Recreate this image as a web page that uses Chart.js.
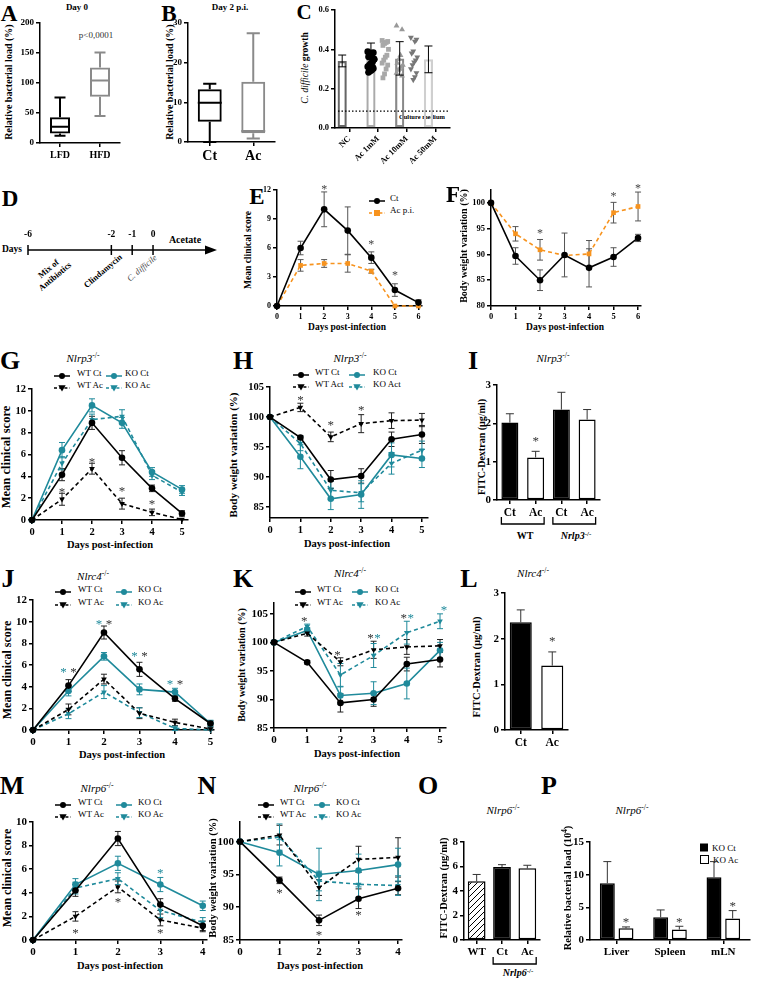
<!DOCTYPE html>
<html>
<head>
<meta charset="utf-8">
<title>Acetate and C. difficile</title>
<script src="https://cdn.jsdelivr.net/npm/chart.js@4.4.1/dist/chart.umd.min.js"></script>
<style>
  html, body { margin: 0; padding: 0; background: #fff; }
  #page { position: relative; width: 767px; height: 981px; overflow: hidden;
          font-family: 'Liberation Serif', 'Times New Roman', serif; color: #000; }
  #page canvas { position: absolute; }
  #page div { position: absolute; white-space: nowrap; line-height: 1; }
  sup { font-size: 70%; vertical-align: 0; position: relative; top: -0.5em; }
</style>
</head>
<body>
<div id="page"></div>
<script>
// ---------- data ----------
// A: day 0 box plot
const aLabels = ['LFD', 'HFD'];
const aMin = [12, 45], aQ1 = [16, 77], aMed = [27, 104], aQ3 = [43, 126], aMax = [76, 151];
// B: day 2 p.i. box plot
const bLabels = ['Ct', 'Ac'];
const bMin = [0, 0.9], bQ1 = [5.1, 2.2], bMed = [9.9, 2.8], bQ3 = [13.3, 15.2], bMax = [14.7, 27.4];
// C: C. difficile growth
const cLabels = ['NC', 'Ac 1mM', 'Ac 10mM', 'Ac 50mM'];
const cMean = [0.341, 0.366, 0.354, 0.349];
const cSD = [0.03, 0.066, 0.085, 0.068];
const cNC = [0.388, 0.383, 0.38, 0.371, 0.362, 0.349, 0.337, 0.329, 0.32, 0.312, 0.303, 0.295, 0.29, 0.283, 0.35, 0.31];
const cAc1 = [0.445, 0.44, 0.435, 0.43, 0.42, 0.40, 0.37, 0.36, 0.345, 0.33, 0.32, 0.30, 0.275, 0.255];
const cAc10 = [0.52, 0.50, 0.37, 0.35, 0.33, 0.32, 0.31, 0.30, 0.295, 0.28, 0.265];
const cAc50 = [0.46, 0.45, 0.44, 0.39, 0.38, 0.36, 0.345, 0.335, 0.32, 0.30, 0.28, 0.26, 0.245];
const cMedium = 0.086;
// D: protocol timeline
const dTicks = [-6, -2, -1, 0];
// E, F: days 0-6
const days6 = [0, 1, 2, 3, 4, 5, 6];
const eCt = [0, 6.0, 10.0, 7.8, 5.0, 1.65, 0.35];
const eCtErr = [0, 0.7, 1.8, 2.45, 0.6, 0.65, 0.3];
const eAc = [0, 4.2, 4.4, 4.4, 3.6, 0, 0];
const eAcErr = [0, 0.6, 0.4, 0.9, 0.2, 0, 0];
const eStars = [[2, 12.3], [4, 6.6], [5, 3.4]];
const fCt = [100, 89.7, 85.0, 89.9, 87.4, 89.5, 93.2];
const fCtErr = [0, 1.6, 2.0, 4.25, 3.7, 1.8, 0.7];
const fAc = [100, 94.0, 90.9, 89.8, 90.1, 98.1, 99.3];
const fAcErr = [0, 1.4, 2.0, 0, 2.6, 2.0, 2.8];
const fStars = [[2, 94.6], [5, 101.8], [6, 103.4]];
// G, H, I: Nlrp3-/-
const days5 = [0, 1, 2, 3, 4, 5];
const gWTCt = [0, 4.15, 8.9, 5.7, 2.9, 0.6],  gWTCtErr = [0, 0.55, 0.6, 0.65, 0.3, 0.25];
const gWTAc = [0, 1.9, 4.7, 1.5, 0.7, 0.05],  gWTAcErr = [0, 0.55, 0.5, 0.5, 0.3, 0];
const gKOCt = [0, 6.4, 10.5, 8.9, 4.4, 2.8],  gKOCtErr = [0, 0.7, 0.6, 0.5, 0.4, 0.35];
const gKOAc = [0, 5.2, 9.2, 9.5, 4.1, 2.55],  gKOAcErr = [0, 0.6, 0.5, 0.6, 0.4, 0.3];
const gStars = [[1, 2.8], [2, 5.5], [3, 2.9], [4, 1.7]];
const hWTCt = [100, 96.6, 89.6, 90.2, 96.3, 97.1],   hWTCtErr = [0, 0.3, 1.5, 1.2, 1.2, 1.5];
const hWTAc = [100, 101.6, 96.7, 98.9, 99.4, 99.5],  hWTAcErr = [0, 0.7, 0.8, 1.5, 1.3, 1.1];
const hKOCt = [100, 93.4, 86.4, 87.1, 93.7, 93.1],   hKOCtErr = [0, 2.0, 1.8, 2.3, 2.0, 1.5];
const hKOAc = [100, 95.6, 87.8, 87.4, 92.3, 94.5],   hKOAcErr = [0, 1.2, 1.5, 1.5, 1.8, 1.5];
const hStars = [[1, 103.3], [2, 99.0], [3, 101.5]];
const iLabels = ['Ct', 'Ac', 'Ct', 'Ac'];
const iVals = [2.02, 1.11, 2.36, 2.10];
const iErr = [0.23, 0.16, 0.45, 0.26];
const iStars = [[1, 1.6]];
// J, K, L: Nlrc4-/-
const jWTCt = [0, 4.1, 9.0, 5.6, 2.9, 0.6],   jWTCtErr = [0, 0.55, 0.6, 0.65, 0.25, 0.25];
const jWTAc = [0, 1.9, 4.7, 1.55, 0.7, 0.1],  jWTAcErr = [0, 0.5, 0.45, 0.5, 0.3, 0.1];
const jKOCt = [0, 3.6, 6.8, 3.75, 3.5, 0.6],  jKOCtErr = [0, 0.45, 0.35, 0.5, 0.35, 0.3];
const jKOAc = [0, 1.5, 3.5, 1.6, 0.15, 0],    jKOAcErr = [0, 0.45, 0.6, 0.45, 0.2, 0];
const jStarsKO = [[1, 5.6], [2, 10.0], [3, 7.1], [4, 4.5]];
const jStarsWT = [[1, 5.6], [2, 10.0], [3, 7.1], [4, 4.5]];
const kWTCt = [100, 96.5, 89.4, 90.0, 96.2, 97.0],   kWTCtErr = [0, 0.3, 1.6, 1.2, 1.2, 1.3];
const kWTAc = [100, 101.6, 96.6, 98.7, 99.2, 99.4],  kWTAcErr = [0, 0.5, 0.7, 1.5, 1.3, 1.1];
const kKOCt = [100, 102.1, 90.7, 91.1, 92.8, 98.6],  kKOCtErr = [0, 0.5, 1.5, 2.0, 2.7, 1.4];
const kKOAc = [100, 102.8, 94.3, 97.7, 101.7, 103.7], kKOAcErr = [0, 0.4, 2.0, 2.1, 2.0, 1.3];
const kStarsWT = [[1, 104.1], [2, 98.3], [3, 101.2], [4, 104.7]];
const kStarsKO = [[3, 101.2], [4, 104.7], [5, 106.1]];
const lLabels = ['Ct', 'Ac'];
const lVals = [2.36, 1.41];
const lErr = [0.27, 0.30];
const lStars = [[1, 2.0]];
// M, N, O, P: Nlrp6-/-
const days4 = [0, 1, 2, 3, 4];
const mWTCt = [0, 4.2, 8.6, 3.0, 1.2],  mWTCtErr = [0, 0.5, 0.6, 0.5, 0.4];
const mWTAc = [0, 2.0, 4.5, 1.7, 1.0],  mWTAcErr = [0, 0.4, 0.5, 0.5, 0.3];
const mKOCt = [0, 4.7, 6.5, 4.7, 2.9],  mKOCtErr = [0, 0.5, 0.6, 0.6, 0.4];
const mKOAc = [0, 4.4, 5.2, 2.5, 1.5],  mKOAcErr = [0, 0.5, 0.5, 0.6, 0.4];
const mStarsWT = [[1, 0.8], [2, 3.4], [3, 0.8]];
const mStarsKO = [[3, 5.9]];
const nWTCt = [100, 94.1, 88.0, 91.3, 92.9],   nWTCtErr = [0, 0.5, 0.8, 1.5, 1.0];
const nWTAc = [100, 101.0, 93.0, 97.3, 97.6],  nWTAcErr = [0, 1.5, 1.2, 2.0, 3.0];
const nKOCt = [100, 98.3, 95.0, 95.6, 96.5],   nKOCtErr = [0, 2.0, 4.0, 2.5, 2.5];
const nKOAc = [100, 100.7, 94.0, 93.5, 93.3],  nKOAcErr = [0, 2.0, 1.5, 2.0, 1.5];
const nStars = [[1, 92.5], [2, 86.2], [3, 89.2]];
const oLabels = ['WT', 'Ct', 'Ac'];
const oVals = [4.8, 5.95, 5.85];
const oErr = [0.55, 0.2, 0.25];
const pLabels = ['Liver', 'Spleen', 'mLN'];
const pKOCt = [8.7, 3.5, 9.6], pKOCtErr = [3.3, 1.1, 2.4];
const pKOAc = [1.8, 1.6, 3.3], pKOAcErr = [0.2, 0.5, 1.2];
const pStars = [[0, 3.2], [1, 3.2], [2, 5.6]];

// ---------- helpers ----------
const F = "'Liberation Serif', 'Times New Roman', serif";
const TEAL = '#1f8a9b';
const ORANGE = '#f7931e';
const page = document.getElementById('page');

function tx(html, x, y, css) {
  const d = document.createElement('div');
  d.innerHTML = html;
  d.style.cssText = 'left:' + x + 'px;top:' + y + 'px;transform:translate(-50%,-50%);' + (css || '');
  page.appendChild(d);
  return d;
}
function letter(ch, x, y, size) { tx(ch, x, y, 'font-weight:bold;font-size:' + size + 'px;'); }
function ytitle(html, x, y, size, css) {
  tx(html, x, y, 'font-weight:bold;font-size:' + size + 'px;transform:translate(-50%,-50%) rotate(-90deg);' + (css || ''));
}
function xtitle(html, x, y, size) { tx(html, x, y, 'font-weight:bold;font-size:' + size + 'px;'); }
function title(html, x, y) { tx(html, x, y, 'font-style:italic;font-size:11px;'); }
function gene(name) { return name + '<sup style="font-style:normal">-/-</sup>'; }

function sym(x, y, color, dashed, shape) {
  let mk;
  if (shape === 'circle') mk = '<circle cx="8" cy="5" r="3" fill="' + color + '"/>';
  else if (shape === 'rect') mk = '<rect x="5" y="2" width="6" height="6" fill="' + color + '"/>';
  else mk = '<polygon points="4.3,2.3 11.7,2.3 8,8.6" fill="' + color + '"/>';
  const d = document.createElement('div');
  d.style.cssText = 'left:' + x + 'px;top:' + (y - 5) + 'px;width:16px;height:10px;';
  d.innerHTML = '<svg width="16" height="10" viewBox="0 0 16 10"><line x1="0" y1="5" x2="16" y2="5" stroke="' + color +
    '" stroke-width="1.5"' + (dashed ? ' stroke-dasharray="3,2.2"' : '') + '/>' + mk + '</svg>';
  page.appendChild(d);
}
function legItem(x, y, textX, label, color, dashed, shape) {
  sym(x, y, color, dashed, shape);
  tx(label, textX, y, 'transform:translate(0,-50%);font-size:9px;');
}
function legend4(cols, rows, names) {
  legItem(cols[0], rows[0], cols[1], names[0], '#000', false, 'circle');
  legItem(cols[2], rows[0], cols[3], names[2], TEAL, false, 'circle');
  legItem(cols[0], rows[1], cols[1], names[1], '#000', true, 'triangle');
  legItem(cols[2], rows[1], cols[3], names[3], TEAL, true, 'triangle');
}

function drawErr(chart) {
  const ctx = chart.ctx;
  chart.data.datasets.forEach((ds, i) => {
    if (!ds.err) return;
    const meta = chart.getDatasetMeta(i);
    const ys = chart.scales[meta.yAxisID];
    ctx.save();
    ctx.strokeStyle = ds.errColor || '#000';
    ctx.lineWidth = ds.errWidth || 1;
    ctx.setLineDash([]);
    meta.data.forEach((el, j) => {
      const e = ds.err[j];
      if (!e) return;
      const raw = ds.data[j];
      const v = (raw !== null && typeof raw === 'object') ? raw.y : raw;
      const hi = ys.getPixelForValue(v + e);
      const lo = ys.getPixelForValue(ds.upOnly ? v : v - e);
      const cap = ds.cap || 3;
      ctx.beginPath();
      ctx.moveTo(el.x, lo); ctx.lineTo(el.x, hi);
      ctx.moveTo(el.x - cap, hi); ctx.lineTo(el.x + cap, hi);
      if (!ds.upOnly) { ctx.moveTo(el.x - cap, lo); ctx.lineTo(el.x + cap, lo); }
      ctx.stroke();
    });
    ctx.restore();
  });
}
const errBars = {
  id: 'errBars',
  beforeDatasetsDraw(chart, a, o) { if (!o.top) drawErr(chart); },
  afterDatasetsDraw(chart, a, o) { if (o.top) drawErr(chart); }
};
const stars = {
  id: 'stars',
  afterDatasetsDraw(chart, a, o) {
    if (!o.list) return;
    const ctx = chart.ctx, xs = chart.scales.x, ys = chart.scales.y;
    ctx.save();
    ctx.font = (o.size || 13) + 'px ' + F;
    ctx.textAlign = 'center';
    ctx.textBaseline = 'middle';
    ctx.fillStyle = o.color || '#333';
    o.list.forEach(s => {
      let x = xs.getPixelForValue(s[0]);
      if (o.ds !== undefined) x = chart.getDatasetMeta(o.ds).data[s[0]].x;
      ctx.fillText('*', x + (o.dx || 0), ys.getPixelForValue(s[1]) + 3);
    });
    ctx.restore();
  }
};
const stars2 = {
  id: 'stars2',
  afterDatasetsDraw(chart, a, o) { stars.afterDatasetsDraw(chart, a, o); }
};
const boxes = {
  id: 'boxes',
  afterDatasetsDraw(chart) {
    const ctx = chart.ctx, ys = chart.scales.y;
    chart.data.datasets.forEach((ds, i) => {
      if (!ds.box) return;
      const meta = chart.getDatasetMeta(i);
      meta.data.forEach((el, j) => {
        const half = el.width / 2, cap = half * 0.55;
        const y = v => ys.getPixelForValue(v);
        ctx.save();
        ctx.strokeStyle = ds.borderColor[j];
        ctx.lineWidth = 2;
        ctx.beginPath();
        ctx.moveTo(el.x - half, y(ds.box.med[j])); ctx.lineTo(el.x + half, y(ds.box.med[j]));
        ctx.moveTo(el.x, y(ds.data[j][1])); ctx.lineTo(el.x, y(ds.box.max[j]));
        ctx.moveTo(el.x - cap, y(ds.box.max[j])); ctx.lineTo(el.x + cap, y(ds.box.max[j]));
        ctx.moveTo(el.x, y(ds.data[j][0])); ctx.lineTo(el.x, y(ds.box.min[j]));
        ctx.moveTo(el.x - cap, y(ds.box.min[j])); ctx.lineTo(el.x + cap, y(ds.box.min[j]));
        ctx.stroke();
        ctx.restore();
      });
    });
  }
};

function tickFont(size) { return { family: F, weight: 'bold', size: size }; }
function linAxis(min, max, vals, size) {
  return {
    type: 'linear', min: min, max: max,
    afterBuildTicks: s => { s.ticks = vals.map(v => ({ value: v })); },
    border: { display: true, color: '#000', width: 1.5 },
    grid: { display: true, drawOnChartArea: false, drawTicks: true, tickLength: 4, tickWidth: 1.5, tickColor: '#000', lineWidth: 1.5 },
    ticks: { color: '#000', font: tickFont(size), padding: 2, autoSkip: false, maxRotation: 0 }
  };
}
function catAxis(size) {
  return {
    type: 'category', offset: true,
    border: { display: true, color: '#000', width: 1.5 },
    grid: { display: true, offset: false, drawOnChartArea: false, drawTicks: true, tickLength: 4, tickWidth: 1.5, tickColor: '#000', lineWidth: 1.5 },
    ticks: { color: '#000', font: tickFont(size), padding: 2, autoSkip: false, maxRotation: 0 }
  };
}

const PL = 40, PT = 14, PR = 12;
// box = [x of y-axis, right end of x-axis, top of y-axis, y of x-axis]
function mk(box, cfg, padB) {
  const pb = padB || 22;
  const w = box[1] - box[0] + PL + PR, h = box[3] - box[2] + PT + pb;
  const c = document.createElement('canvas');
  c.width = w; c.height = h;
  c.style.left = (box[0] - PL) + 'px';
  c.style.top = (box[2] - PT) + 'px';
  page.appendChild(c);
  const o = cfg.options;
  o.responsive = false; o.animation = false; o.devicePixelRatio = 1; o.events = [];
  o.layout = { padding: { top: PT, right: PR, left: 0, bottom: 0 } };
  o.scales.x.afterFit = s => { s.height = pb; };
  o.scales.y.afterFit = s => { s.width = PL; };
  o.plugins = Object.assign({ legend: { display: false }, tooltip: { enabled: false } }, o.plugins || {});
  cfg.plugins = [errBars, stars, stars2, boxes].concat(cfg.plugins || []);
  return new Chart(c, cfg);
}

function ser(days, vals, err, color, dashed, shape, errColor) {
  return {
    data: days.map((d, i) => ({ x: d, y: vals[i] })),
    err: err, errColor: errColor || color,
    borderColor: color, backgroundColor: color, borderWidth: 1.6,
    borderDash: dashed ? [4, 3] : [],
    pointStyle: shape, pointRotation: shape === 'triangle' ? 180 : 0,
    pointRadius: 3.3, pointBorderWidth: 0, pointBackgroundColor: color,
    clip: false, tension: 0, fill: false
  };
}
function four(days, wc, wce, wa, wae, kc, kce, ka, kae) {
  return [
    ser(days, wc, wce, '#000', false, 'circle', '#222'),
    ser(days, wa, wae, '#000', true, 'triangle', '#222'),
    ser(days, kc, kce, TEAL, false, 'circle'),
    ser(days, ka, kae, TEAL, true, 'triangle')
  ];
}
function linePanel(box, xMax, xTicks, yMin, yMax, yTicks, tsize, sets, st1, st2) {
  return mk(box, {
    type: 'line',
    data: { datasets: sets },
    options: {
      scales: { x: linAxis(0, xMax, xTicks, tsize), y: linAxis(yMin, yMax, yTicks, tsize) },
      plugins: { stars: st1 || {}, stars2: st2 || {} }
    }
  });
}

// ---------- A ----------
letter('A', 9, 13, 23);
tx('Day 0', 77, 7, 'font-weight:bold;font-size:9px;');
ytitle('Relative bacterial load (%)', 9, 82, 10);
tx('p&lt;0,0001', 96, 35, 'font-size:9px;color:#333;');
mk([40, 120, 23, 143], {
  type: 'bar',
  data: { labels: aLabels, datasets: [{
    data: aQ1.map((q, i) => [q, aQ3[i]]),
    box: { min: aMin, med: aMed, max: aMax },
    backgroundColor: 'rgba(0,0,0,0)', borderColor: ['#000', '#8a8a8a'], borderWidth: 2, borderSkipped: false,
    barPercentage: 0.5, categoryPercentage: 1
  }] },
  options: { scales: { x: catAxis(10), y: linAxis(0, 200, [0, 50, 100, 150, 200], 9) } }
});

// ---------- B ----------
letter('B', 169, 13, 23);
tx('Day 2 p.i.', 230, 7, 'font-weight:bold;font-size:9px;');
ytitle('Relative bacterial load (%)', 170, 82, 10);
mk([188, 275, 23, 142], {
  type: 'bar',
  data: { labels: bLabels, datasets: [{
    data: bQ1.map((q, i) => [q, bQ3[i]]),
    box: { min: bMin, med: bMed, max: bMax },
    backgroundColor: 'rgba(0,0,0,0)', borderColor: ['#000', '#8a8a8a'], borderWidth: 2, borderSkipped: false,
    barPercentage: 0.55, categoryPercentage: 1
  }] },
  options: { scales: { x: catAxis(14), y: linAxis(0, 30, [0, 10, 20, 30], 9) } }
});

// ---------- C ----------
letter('C', 304, 12, 21);
ytitle('<span style="font-weight:normal;font-style:italic">C. difficile</span> growth', 306, 68, 9.5);
tx('Culture medium', 422, 117, 'font-weight:bold;font-size:6.5px;');
const cBorders = ['#666', '#aaa', '#888', '#cfcfcf'];
const cPts = [cNC, cAc1, cAc10, cAc50];
const cPtColor = ['#000', '#a8a8a8', '#999', '#777'];
const cPtStyle = ['circle', 'rect', 'triangle', 'triangle'];
const cScatter = cPts.map((arr, k) => ({
  type: 'scatter', xAxisID: 'xs',
  data: arr.map((v, j) => ({ x: k + ((j * 7) % 9 - 4) * 0.055, y: v })),
  pointStyle: cPtStyle[k], pointRotation: k === 3 ? 180 : 0,
  pointRadius: 3.4, pointBorderWidth: 0, backgroundColor: cPtColor[k], pointBackgroundColor: cPtColor[k], clip: false
}));
const cChart = {
  type: 'bar',
  data: { labels: cLabels, datasets: [{
    data: cMean, err: cSD, errColor: '#000', cap: 4,
    backgroundColor: 'rgba(255,255,255,0)', borderColor: cBorders, borderWidth: 2.2, borderSkipped: false,
    barPercentage: 0.64, categoryPercentage: 1, order: 2
  }].concat(cScatter) },
  options: {
    scales: {
      x: catAxis(8.5),
      xs: { type: 'linear', display: false, min: -0.5, max: 3.5 },
      y: linAxis(0, 0.6, [0, 0.2, 0.4, 0.6], 8.5)
    },
    plugins: { errBars: { top: true } }
  },
  plugins: [{
    id: 'medium',
    afterDatasetsDraw(chart) {
      const ctx = chart.ctx, y = chart.scales.y.getPixelForValue(cMedium), a = chart.chartArea;
      ctx.save(); ctx.strokeStyle = '#000'; ctx.lineWidth = 1.2; ctx.setLineDash([1.5, 2]);
      ctx.beginPath(); ctx.moveTo(a.left + 3, y); ctx.lineTo(a.right, y); ctx.stroke(); ctx.restore();
    }
  }]
};
cChart.options.scales.x.ticks.maxRotation = 45;
cChart.options.scales.x.ticks.minRotation = 45;
cChart.options.scales.y.ticks.callback = v => v.toFixed(1);
mk([335, 450, 10, 128], cChart, 48);

// ---------- D ----------
letter('D', 10, 198, 23);
tx('Days', 12, 250, 'font-weight:bold;font-size:9.5px;');
tx('Acetate', 185, 240, 'font-weight:bold;font-size:10px;');
tx('Mix of<br>Antibiotics', 52, 273, 'font-weight:bold;font-size:8.5px;text-align:center;line-height:1.15;transform:translate(-50%,-50%) rotate(-40deg);');
tx('Clindamycin', 103, 271, 'font-weight:bold;font-size:8.5px;transform:translate(-50%,-50%) rotate(-40deg);');
tx('C. difficile', 142, 268, 'font-style:italic;font-size:8.5px;color:#444;transform:translate(-50%,-50%) rotate(-40deg);');
(function () {
  const c = document.createElement('canvas');
  c.width = 240; c.height = 70; c.style.left = '0px'; c.style.top = '215px';
  page.appendChild(c);
  new Chart(c, {
    type: 'scatter',
    data: { datasets: [] },
    options: {
      responsive: false, animation: false, devicePixelRatio: 1, events: [],
      layout: { padding: { left: 28, right: 23, top: 35, bottom: 0 } },
      scales: {
        x: { type: 'linear', position: 'top', min: -6, max: 3.07,
             afterBuildTicks: s => { s.ticks = dTicks.map(v => ({ value: v })); },
             afterFit: s => { s.height = 0; },
             ticks: { display: false }, grid: { display: false }, border: { display: false } },
        y: { display: false }
      },
      plugins: { legend: { display: false }, tooltip: { enabled: false } }
    },
    plugins: [{
      id: 'timeline',
      afterDraw(chart) {
        const ctx = chart.ctx, xs = chart.scales.x, y = chart.chartArea.top;
        const x0 = xs.getPixelForValue(xs.min), x1 = xs.getPixelForValue(xs.max);
        ctx.save();
        ctx.strokeStyle = '#000'; ctx.fillStyle = '#000'; ctx.lineWidth = 1.5;
        ctx.beginPath(); ctx.moveTo(x0, y); ctx.lineTo(x1 - 8, y); ctx.stroke();
        ctx.beginPath(); ctx.moveTo(x1, y); ctx.lineTo(x1 - 12, y - 4.5); ctx.lineTo(x1 - 12, y + 4.5); ctx.closePath(); ctx.fill();
        ctx.font = 'bold 9.5px ' + F; ctx.textAlign = 'center'; ctx.textBaseline = 'middle';
        dTicks.forEach(t => {
          const x = xs.getPixelForValue(t);
          ctx.beginPath(); ctx.moveTo(x, y - 5); ctx.lineTo(x, y + 5); ctx.stroke();
          ctx.fillText(String(t), x, y - 15);
        });
        ctx.restore();
      }
    }]
  });
})();

// ---------- E ----------
letter('E', 257, 196, 23);
ytitle('Mean clinical score', 249, 250, 9.5);
xtitle('Days post-infection', 347, 328, 9.5);
legItem(369, 198, 390, 'Ct', '#000', false, 'circle');
legItem(369, 210, 390, 'Ac p.i.', ORANGE, true, 'rect');
linePanel([277, 422, 190, 306], 6.15, days6, 0, 12, [0, 3, 6, 9, 12], 8, [
  ser(days6, eCt, eCtErr, '#000', false, 'circle', '#555'),
  ser(days6, eAc, eAcErr, ORANGE, true, 'rect', '#555')
], { list: eStars, size: 12, color: '#444' });

// ---------- F ----------
letter('F', 453, 194, 23);
ytitle('Body weight variation (%)', 464, 246, 10);
xtitle('Days post-infection', 565, 328, 9.5);
linePanel([491, 641, 190, 306], 6.12, days6, 80, 102.5, [80, 85, 90, 95, 100], 8.5, [
  ser(days6, fCt, fCtErr, '#000', false, 'circle', '#555'),
  ser(days6, fAc, fAcErr, ORANGE, true, 'rect', '#555')
], { list: fStars, size: 12, color: '#444' });

// ---------- G ----------
letter('G', 10, 361, 26);
title('<i>' + gene('Nlrp3') + '</i>', 83, 358);
legend4([54, 77, 106, 125], [373, 385], ['WT Ct', 'WT Ac', 'KO Ct', 'KO Ac']);
ytitle('Mean clinical score', 6, 457, 12.5);
xtitle('Days post-infection', 110, 545, 10.5);
linePanel([32, 188, 389, 520], 5.2, days5, 0, 12, [0, 2, 4, 6, 8, 10, 12], 10.5,
  four(days5, gWTCt, gWTCtErr, gWTAc, gWTAcErr, gKOCt, gKOCtErr, gKOAc, gKOAcErr),
  { list: gStars });

// ---------- H ----------
letter('H', 243, 361, 26);
title('<i>' + gene('Nlrp3') + '</i>', 350, 358);
legend4([293, 315, 349, 373], [372, 384], ['WT Ct', 'WT Act', 'KO Ct', 'KO Act']);
ytitle('Body weight variation (%)', 233, 455, 11);
xtitle('Days post-infection', 347, 544, 10.5);
linePanel([270, 428, 387, 518], 5.2, days5, 83.2, 105, [85, 90, 95, 100, 105], 10.5,
  four(days5, hWTCt, hWTCtErr, hWTAc, hWTAcErr, hKOCt, hKOCtErr, hKOAc, hKOAcErr),
  { list: hStars });

// ---------- I ----------
letter('I', 473, 361, 26);
title('<i>' + gene('Nlrp3') + '</i>', 553, 358);
ytitle('FITC-Dextran (µg/ml)', 482, 447, 10);
tx('WT', 525, 536, 'font-weight:bold;font-size:10px;');
tx('<i>' + gene('Nrlp3') + '</i>', 576, 536, 'font-size:10px;font-weight:bold;');
function bracketPlugin(pairs) {
  return {
    id: 'brackets',
    afterDraw(chart) {
      const m = chart.getDatasetMeta(0).data, ctx = chart.ctx, y = chart.chartArea.bottom + 24;
      ctx.save(); ctx.strokeStyle = '#000'; ctx.lineWidth = 1.3;
      pairs.forEach(p => {
        const l = m[p[0]].x - m[p[0]].width / 2, r = m[p[1]].x + m[p[1]].width / 2;
        ctx.beginPath(); ctx.moveTo(l, y - 7); ctx.lineTo(l, y); ctx.lineTo(r, y); ctx.lineTo(r, y - 7); ctx.stroke();
      });
      ctx.restore();
    }
  };
}
mk([497, 600, 385, 500], {
  type: 'bar',
  data: { labels: iLabels, datasets: [{
    data: iVals, err: iErr, upOnly: true, errColor: '#333', cap: 4,
    backgroundColor: ['#000', '#fff', '#000', '#fff'], borderColor: '#000', borderWidth: 1.5, borderSkipped: false,
    barPercentage: 0.66, categoryPercentage: 1
  }] },
  options: { scales: { x: catAxis(11.5), y: linAxis(0, 3, [0, 1, 2, 3], 11) }, plugins: { stars: { list: iStars } } },
  plugins: [bracketPlugin([[0, 1], [2, 3]])]
}, 32);

// ---------- J ----------
letter('J', 8, 579, 26);
title('<i>' + gene('Nlrc4') + '</i>', 93, 576);
legend4([55, 78, 116, 138], [589, 602], ['WT Ct', 'WT Ac', 'KO Ct', 'KO Ac']);
ytitle('Mean clinical score', 7, 670, 12);
xtitle('Days post-infection', 122, 755, 10.5);
linePanel([33, 214, 600, 730], 5.1, days5, 0, 12, [0, 2, 4, 6, 8, 10, 12], 11,
  four(days5, jWTCt, jWTCtErr, jWTAc, jWTAcErr, jKOCt, jKOCtErr, jKOAc, jKOAcErr),
  { list: jStarsKO, color: TEAL, dx: -5 }, { list: jStarsWT, color: '#333', dx: 5 });

// ---------- K ----------
letter('K', 243, 579, 26);
title('<i>' + gene('Nlrc4') + '</i>', 350, 573);
legend4([295, 317, 352, 375], [589, 602], ['WT Ct', 'WT Ac', 'KO Ct', 'KO Ac']);
ytitle('Body weight variation (%)', 242, 665, 10);
xtitle('Days post-infection', 357, 754, 10.5);
linePanel([274, 446, 603, 728], 5.18, days5, 85, 106.9, [85, 90, 95, 100, 105], 11,
  four(days5, kWTCt, kWTCtErr, kWTAc, kWTAcErr, kKOCt, kKOCtErr, kKOAc, kKOAcErr),
  { list: kStarsWT, color: '#333', dx: -3 }, { list: kStarsKO, color: TEAL, dx: 4 });

// ---------- L ----------
letter('L', 469, 579, 26);
title('<i>' + gene('Nlrc4') + '</i>', 533, 573);
ytitle('FITC-Dextran (µg/ml)', 477, 667, 10.5);
mk([505, 568, 593, 730], {
  type: 'bar',
  data: { labels: lLabels, datasets: [{
    data: lVals, err: lErr, upOnly: true, errColor: '#333', cap: 4,
    backgroundColor: ['#000', '#fff'], borderColor: '#000', borderWidth: 1.5, borderSkipped: false,
    barPercentage: 0.7, categoryPercentage: 1
  }] },
  options: { scales: { x: catAxis(11.5), y: linAxis(0, 3, [0, 1, 2, 3], 11) }, plugins: { stars: { list: lStars } } }
});

// ---------- M ----------
letter('M', 12, 786, 26);
title('<i>' + gene('Nlrp6') + '</i>', 97, 788);
legend4([55, 78, 116, 138], [802, 814], ['WT Ct', 'WT Ac', 'KO Ct', 'KO Ac']);
ytitle('Mean clinical score', 7, 878, 12);
xtitle('Days post-infection', 120, 966, 10.5);
linePanel([33, 207, 822, 940], 4.1, days4, 0, 10, [0, 2, 4, 6, 8, 10], 11,
  four(days4, mWTCt, mWTCtErr, mWTAc, mWTAcErr, mKOCt, mKOCtErr, mKOAc, mKOAcErr),
  { list: mStarsWT, color: '#333' }, { list: mStarsKO, color: TEAL });

// ---------- N ----------
letter('N', 207, 786, 26);
title('<i>' + gene('Nlrp6') + '</i>', 310, 788);
legend4([258, 280, 314, 336], [802, 814], ['WT Ct', 'WT Ac', 'KO Ct', 'KO Ac']);
ytitle('Body weight variation (%)', 213, 878, 10.5);
xtitle('Days post-infection', 320, 966, 10.5);
linePanel([240, 402, 822, 940], 4.1, days4, 85, 103, [85, 90, 95, 100], 11,
  four(days4, nWTCt, nWTCtErr, nWTAc, nWTAcErr, nKOCt, nKOCtErr, nKOAc, nKOAcErr),
  { list: nStars, color: '#333' });

// ---------- O ----------
letter('O', 428, 786, 26);
title('<i>' + gene('Nlrp6') + '</i>', 503, 810);
ytitle('FITC-Dextran (µg/ml)', 444, 888, 10.5);
tx('<i>' + gene('Nrlp6') + '</i>', 518, 973, 'font-size:10px;font-weight:bold;');
const hatchCanvas = document.createElement('canvas');
hatchCanvas.width = 6; hatchCanvas.height = 6;
(function () {
  const g = hatchCanvas.getContext('2d');
  g.fillStyle = '#fff'; g.fillRect(0, 0, 6, 6);
  g.strokeStyle = '#000'; g.lineWidth = 1;
  g.beginPath(); g.moveTo(0, 6); g.lineTo(6, 0); g.moveTo(-3, 3); g.lineTo(3, -3); g.moveTo(3, 9); g.lineTo(9, 3); g.stroke();
})();
const hatch = hatchCanvas.getContext('2d').createPattern(hatchCanvas, 'repeat');
mk([464, 540, 842, 940], {
  type: 'bar',
  data: { labels: oLabels, datasets: [{
    data: oVals, err: oErr, upOnly: true, errColor: '#333', cap: 4,
    backgroundColor: [hatch, '#000', '#fff'], borderColor: '#000', borderWidth: 1.5, borderSkipped: false,
    barPercentage: 0.7, categoryPercentage: 1
  }] },
  options: { scales: { x: catAxis(11), y: linAxis(0, 8, [0, 2, 4, 6, 8], 11) } },
  plugins: [bracketPlugin([[1, 2]])]
}, 32);

// ---------- P ----------
letter('P', 549, 786, 26);
title('<i>' + gene('Nlrp6') + '</i>', 632, 810);
ytitle('Relative bacterial load (10<sup>4</sup>)', 568, 888, 10.5);
tx('<span style="display:inline-block;width:8px;height:8px;background:#000;margin-right:4px;vertical-align:-1px"></span>KO Ct', 700, 848, 'font-size:9px;transform:translate(0,-50%);');
tx('<span style="display:inline-block;width:7px;height:7px;border:1px solid #000;margin-right:4px;vertical-align:-1px"></span>KO Ac', 700, 860, 'font-size:9px;transform:translate(0,-50%);');
mk([590, 750, 842, 940], {
  type: 'bar',
  data: { labels: pLabels, datasets: [
    { data: pKOCt, err: pKOCtErr, upOnly: true, errColor: '#333', cap: 4,
      backgroundColor: '#000', borderColor: '#000', borderWidth: 1.5, borderSkipped: false,
      barPercentage: 0.8, categoryPercentage: 0.7 },
    { data: pKOAc, err: pKOAcErr, upOnly: true, errColor: '#333', cap: 4,
      backgroundColor: '#fff', borderColor: '#000', borderWidth: 1.5, borderSkipped: false,
      barPercentage: 0.8, categoryPercentage: 0.7 }
  ] },
  options: { scales: { x: catAxis(11), y: linAxis(0, 15, [0, 5, 10, 15], 11) }, plugins: { stars: { list: pStars, ds: 1 } } }
});
</script>
</body>
</html>
